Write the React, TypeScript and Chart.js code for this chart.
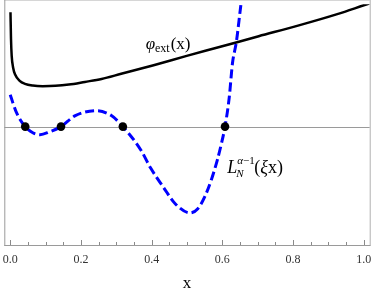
import React, { useEffect, useRef } from "react";
import { Chart, registerables } from "chart.js";

Chart.register(...registerables);

// phi_ext(x) curve (solid black)
const phiX = [0.0008, 0.0022, 0.0042, 0.0083, 0.0139, 0.0269, 0.0417, 0.0639, 0.0917, 0.1278, 0.1658, 0.2111, 0.2583, 0.3139, 0.4056, 0.4992, 0.5917, 0.7028, 0.8139, 0.925, 1.0, 1.0167];
const phiY = [1.165, 0.9, 0.72, 0.6, 0.53, 0.465, 0.435, 0.418, 0.412, 0.415, 0.428, 0.455, 0.485, 0.538, 0.625, 0.72, 0.81, 0.92, 1.028, 1.145, 1.235, 1.255];

// Laguerre curve (dashed blue)
const lagX = [0.0, 0.0175, 0.0425, 0.0639, 0.0842, 0.1103, 0.1436, 0.1842, 0.2444, 0.2861, 0.3186, 0.3694, 0.3972, 0.4342, 0.4667, 0.5083, 0.5306, 0.55, 0.5694, 0.5861, 0.5972, 0.6075, 0.6194, 0.6286, 0.6397, 0.6519, 0.6556];
const lagY = [0.325, 0.145, 0.0, -0.062, -0.082, -0.055, 0.0, 0.112, 0.162, 0.112, 0.0, -0.238, -0.422, -0.622, -0.785, -0.878, -0.835, -0.715, -0.535, -0.335, -0.175, 0.0, 0.295, 0.645, 0.865, 1.225, 1.325];

// zeros (black dots)
const zeroX = [0.0425, 0.1436, 0.3186, 0.6075];
const zeroY = [0, 0, 0, 0];

const majorTicks = [0.0, 0.2, 0.4, 0.6, 0.8, 1.0];
const tickLabels = ["0.0", "0.2", "0.4", "0.6", "0.8", "1.0"];
const minorTicks = [0.05, 0.1, 0.15, 0.25, 0.3, 0.35, 0.45, 0.5, 0.55, 0.65, 0.7, 0.75, 0.85, 0.9, 0.95];

const SERIF = "'Liberation Serif', 'DejaVu Serif', serif";

function drawParts(ctx: CanvasRenderingContext2D, parts: { t: string; f: string; dy?: number; dx?: number }[], x: number, y: number) {
  let cx = x;
  for (const p of parts) {
    ctx.font = p.f;
    const xx = cx + (p.dx || 0);
    ctx.fillText(p.t, xx, y + (p.dy || 0));
    const w = ctx.measureText(p.t).width;
    cx = xx + w;
  }
}

const axesPlugin = {
  id: "mmaAxes",
  beforeDatasetsDraw(chart: any) {
    const { ctx, chartArea: a, scales } = chart;
    const y0 = scales.y.getPixelForValue(0);
    ctx.save();
    ctx.strokeStyle = "#9a9a9a";
    ctx.lineWidth = 1;
    ctx.beginPath();
    ctx.moveTo(a.left, Math.round(y0) + 0.5);
    ctx.lineTo(a.right, Math.round(y0) + 0.5);
    ctx.stroke();
    ctx.restore();
  },
  afterDraw(chart: any) {
    const { ctx, chartArea: a, scales } = chart;
    const xs = scales.x;
    const ys = scales.y;
    ctx.save();
    // frame
    ctx.lineWidth = 1;
    ctx.strokeStyle = "#d6d6d6";
    ctx.beginPath();
    ctx.moveTo(a.left, 0.5);
    ctx.lineTo(a.right, 0.5);
    ctx.stroke();
    ctx.strokeStyle = "#b0b0b0";
    ctx.beginPath();
    ctx.moveTo(a.right + 0.5, 0);
    ctx.lineTo(a.right + 0.5, a.bottom);
    ctx.stroke();
    ctx.strokeStyle = "#9a9a9a";
    ctx.beginPath();
    ctx.moveTo(a.left + 0.5, 0);
    ctx.lineTo(a.left + 0.5, a.bottom + 1);
    ctx.moveTo(a.left, a.bottom + 0.5);
    ctx.lineTo(a.right + 1, a.bottom + 0.5);
    ctx.stroke();
    // ticks
    ctx.strokeStyle = "#8a8a8a";
    ctx.beginPath();
    for (const v of majorTicks) {
      const px = Math.round(xs.getPixelForValue(v)) + 0.5;
      ctx.moveTo(px, a.bottom);
      ctx.lineTo(px, a.bottom - 5);
    }
    for (const v of minorTicks) {
      const px = Math.round(xs.getPixelForValue(v)) + 0.5;
      ctx.moveTo(px, a.bottom);
      ctx.lineTo(px, a.bottom - 3);
    }
    ctx.stroke();
    // tick labels
    ctx.fillStyle = "#333";
    ctx.font = "12px " + SERIF;
    ctx.textAlign = "center";
    ctx.textBaseline = "alphabetic";
    majorTicks.forEach((v, i) => {
      ctx.fillText(tickLabels[i], xs.getPixelForValue(v), a.bottom + 18);
    });
    // axis title
    ctx.fillStyle = "#000";
    ctx.font = "17px " + SERIF;
    ctx.fillText("x", (a.left + a.right) / 2, 288);
    // curve labels
    ctx.textAlign = "left";
    const fx = xs.getPixelForValue(0.383);
    const fy = ys.getPixelForValue(0.795);
    drawParts(ctx, [
      { t: "\u03c6", f: "italic 17px " + SERIF },
      { t: "ext", f: "12px " + SERIF, dy: 3 },
      { t: "(x)", f: "17px " + SERIF, dx: 1 },
    ], fx, fy);
    const lx = xs.getPixelForValue(0.614);
    const ly = ys.getPixelForValue(-0.475);
    ctx.font = "italic 18px " + SERIF;
    ctx.fillText("L", lx, ly);
    const lw = ctx.measureText("L").width;
    drawParts(ctx, [
      { t: "\u03b1", f: "italic 11px " + SERIF },
      { t: "\u22121", f: "11px " + SERIF },
    ], lx + lw, ly - 9);
    ctx.font = "italic 11px " + SERIF;
    ctx.fillText("N", lx + lw - 1, ly + 4);
    drawParts(ctx, [
      { t: "(", f: "18px " + SERIF },
      { t: "\u03be", f: "italic 18px " + SERIF },
      { t: "x)", f: "18px " + SERIF },
    ], lx + lw + 17, ly);
    ctx.restore();
  },
};

export default function App() {
  const ref = useRef<HTMLCanvasElement>(null);
  useEffect(() => {
    if (!ref.current) return;
    const chart = new Chart(ref.current, {
      type: "line",
      data: {
        datasets: [
          {
            data: zeroX.map((x, i) => ({ x, y: zeroY[i] })),
            showLine: false,
            pointRadius: 4.3,
            pointBackgroundColor: "#000",
            pointBorderColor: "#000",
            pointBorderWidth: 0,
          },
          {
            data: lagX.map((x, i) => ({ x, y: lagY[i] })),
            borderColor: "#0000ff",
            borderWidth: 3,
            borderDash: [9, 4],
            pointRadius: 0,
            cubicInterpolationMode: "monotone",
            fill: false,
          },
          {
            data: phiX.map((x, i) => ({ x, y: phiY[i] })),
            borderColor: "#000",
            borderWidth: 2.5,
            pointRadius: 0,
            cubicInterpolationMode: "monotone",
            fill: false,
          },
        ] as any,
      },
      options: {
        animation: false,
        responsive: false,
        devicePixelRatio: 1,
        layout: { padding: { left: 1, right: 1, top: 0, bottom: 49 } },
        plugins: { legend: { display: false }, tooltip: { enabled: false } },
        scales: {
          x: { type: "linear", min: -0.0167, max: 1.0167, display: false },
          y: { type: "linear", min: -1.205, max: 1.245, display: false },
        },
      },
      plugins: [axesPlugin],
    });
    return () => chart.destroy();
  }, []);
  return (
    <div style={{ position: "fixed", left: 0, top: 0, width: 374, height: 294, background: "#fff" }}>
      <canvas ref={ref} width={374} height={294} style={{ width: 374, height: 294, display: "block" }} />
    </div>
  );
}
